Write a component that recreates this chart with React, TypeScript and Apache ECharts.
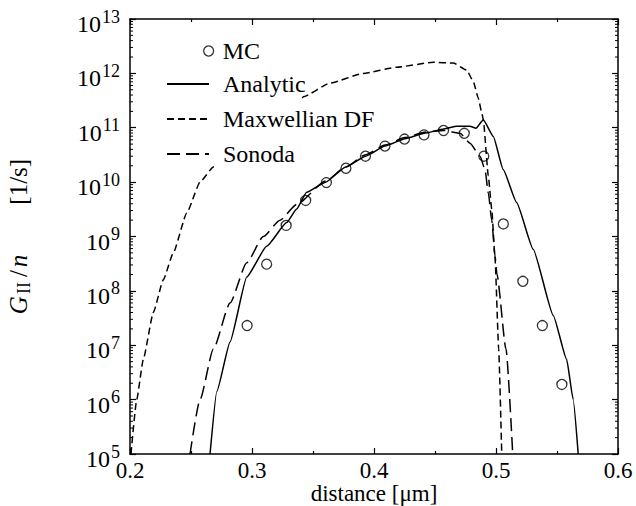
import React, { useEffect, useRef } from "react";
import * as echarts from "echarts";

const FONT = "Liberation Serif, serif";

// MC points
const mcX = [0.296, 0.312, 0.328, 0.344, 0.361, 0.377, 0.393, 0.409, 0.425, 0.441, 0.457, 0.474, 0.490, 0.506, 0.522, 0.538, 0.554];
const mcY = [2.3e7, 3.1e8, 1.6e9, 4.6e9, 9.8e9, 1.8e10, 3.0e10, 4.6e10, 6.2e10, 7.4e10, 8.9e10, 7.9e10, 3.0e10, 1.7e9, 1.5e8, 2.3e7, 1.9e6];

// Analytic curve
const anX = [0.2656, 0.2711, 0.282, 0.2957, 0.312, 0.3284, 0.3366, 0.3448, 0.3604, 0.3768, 0.3932, 0.409, 0.4254, 0.4412, 0.4574, 0.4677, 0.4787, 0.4836, 0.4896, 0.4978, 0.5059, 0.5169, 0.5305, 0.547, 0.5579, 0.5633, 0.5674];
const anY = [1e5, 1.4e6, 1.15e7, 1.8e8, 6.6e8, 1.8e9, 3.2e9, 6.5e9, 1.0e10, 1.9e10, 3.0e10, 4.6e10, 6.3e10, 7.9e10, 9.5e10, 1.07e11, 1.07e11, 9.8e10, 1.4e11, 6.9e10, 1.7e10, 4.2e9, 5.8e8, 3.5e7, 5.5e6, 1.0e6, 1e5];

// Maxwellian DF curve
const mxX = [0.2008, 0.2055, 0.2109, 0.2191, 0.2273, 0.2355, 0.2465, 0.2574, 0.2683, 0.2902, 0.3148, 0.33, 0.337, 0.342, 0.3639, 0.3912, 0.4186, 0.4486, 0.465, 0.476, 0.4814, 0.4855, 0.4883, 0.4896, 0.4937, 0.4965, 0.4992, 0.5022, 0.5047];
const mxY = [1e5, 1.0e6, 5.5e6, 4.0e7, 1.6e8, 5.0e8, 2.7e9, 1.0e10, 1.9e10, 4.5e10, 9.0e10, 1.5e11, 2.3e11, 3.7e11, 6.6e11, 1.0e12, 1.3e12, 1.6e12, 1.55e12, 1.15e12, 7.1e11, 3.5e11, 1.9e11, 1.4e11, 1.3e10, 3.2e9, 4.0e8, 8.5e6, 1e5];

// Sonoda curve
const soX = [0.2492, 0.2574, 0.2683, 0.282, 0.2957, 0.3093, 0.323, 0.3366, 0.3604, 0.3768, 0.3932, 0.409, 0.4254, 0.4412, 0.4574, 0.4705, 0.4787, 0.4869, 0.491, 0.4937, 0.4965, 0.4992, 0.5008, 0.5082, 0.5137];
const soY = [1e5, 1.0e6, 8.5e6, 6.0e7, 3.3e8, 1.0e9, 2.0e9, 3.9e9, 1.05e10, 1.9e10, 3.2e10, 4.8e10, 6.6e10, 8.3e10, 8.9e10, 7.9e10, 5.2e10, 3.0e10, 1.7e10, 6.3e9, 2.0e9, 4.4e8, 2.0e8, 8.5e6, 1e5];

const xMin = 0.2;
const xMax = 0.6;
const yMin = 1e5;
const yMax = 1e13;
const decades = [5, 6, 7, 8, 9, 10, 11, 12];
const minorMultipliers = [2, 3, 4, 5, 6, 7, 8, 9];

const zip = (xs: number[], ys: number[]) => xs.map((x, i) => [x, ys[i]]);

export default function App() {
  const ref = useRef<HTMLDivElement>(null);
  useEffect(() => {
    const chart = echarts.init(ref.current!, null, { renderer: "svg" });
    const minorVals: number[][] = [];
    decades.forEach((d) => minorMultipliers.forEach((m) => minorVals.push([xMin, m * Math.pow(10, d)])));

    const axisLine = { lineStyle: { color: "#000", width: 1.5 } };
    const lineSeries = (name: string, data: number[][], type: any, smooth: number) => ({
      name,
      type: "line",
      data,
      symbol: "none",
      showSymbol: false,
      smooth,
      smoothMonotone: "x",
      lineStyle: { color: "#000", width: 1.5, type },
      itemStyle: { color: "#000" },
      z: 2,
    });

    const option: any = {
      animation: false,
      backgroundColor: "#fff",
      grid: { left: 130, right: 18, top: 19, bottom: 52, containLabel: false, outerBoundsMode: "none" },
      xAxis: [
        {
          type: "value",
          min: xMin,
          max: xMax,
          interval: 0.1,
          position: "bottom",
          axisLine,
          axisTick: { inside: true, length: 6, lineStyle: { color: "#000", width: 1.2 } },
          minorTick: { show: true, splitNumber: 2, length: 3, lineStyle: { color: "#000", width: 1.2 } },
          splitLine: { show: false },
          axisLabel: {
            color: "#000",
            fontFamily: FONT,
            fontSize: 23,
            lineHeight: 20,
            margin: 6,
            formatter: (v: number) => v.toFixed(1),
          },
          name: "distance [\u03bcm]",
          nameLocation: "middle",
          nameGap: 29,
          nameMoveOverlap: false,
          nameTextStyle: { color: "#000", fontFamily: FONT, fontSize: 23, lineHeight: 20 },
        },
        {
          type: "value",
          min: xMin,
          max: xMax,
          interval: 0.1,
          position: "top",
          axisLine,
          axisTick: { inside: true, length: 6, lineStyle: { color: "#000", width: 1.2 } },
          minorTick: { show: true, splitNumber: 2, length: 3, lineStyle: { color: "#000", width: 1.2 } },
          splitLine: { show: false },
          axisLabel: { show: false },
        },
      ],
      yAxis: [
        {
          type: "log",
          logBase: 10,
          min: yMin,
          max: yMax,
          interval: 1,
          position: "left",
          axisLine,
          axisTick: { inside: true, length: 6, lineStyle: { color: "#000", width: 1.2 } },
          splitLine: { show: false },
          axisLabel: {
            color: "#000",
            fontFamily: FONT,
            margin: 10,
            formatter: (v: number) => `{b|10}{e|${Math.round(Math.log10(v))}}`,
            rich: {
              b: { fontFamily: FONT, fontSize: 24, color: "#000", padding: [10, 0, 0, 0] },
              e: { fontFamily: FONT, fontSize: 18, color: "#000", padding: [0, 0, 5, 1] },
            },
          },
          name: "{g|G}{s|II}{t|/}{g|n}{u|[1/s]}",
          nameLocation: "middle",
          nameRotate: 90,
          nameGap: 97,
          nameMoveOverlap: false,
          nameTextStyle: {
            color: "#000",
            fontFamily: FONT,
            fontSize: 24,
            rich: {
              g: { fontFamily: FONT, fontSize: 25, fontStyle: "italic", color: "#000" },
              s: { fontFamily: FONT, fontSize: 18, color: "#000", padding: [12, 2, 0, 2] },
              t: { fontFamily: FONT, fontSize: 25, color: "#000", padding: [0, 3, 0, 3] },
              u: { fontFamily: FONT, fontSize: 25, color: "#000", padding: [0, 0, 0, 50] },
            },
          },
        },
        {
          type: "log",
          logBase: 10,
          min: yMin,
          max: yMax,
          interval: 1,
          position: "right",
          axisLine,
          axisTick: { inside: true, length: 6, lineStyle: { color: "#000", width: 1.2 } },
          splitLine: { show: false },
          axisLabel: { show: false },
        },
      ],
      legend: [
        {
          data: [
            {
              name: "MC",
              icon: "circle",
              itemStyle: { color: "rgba(0,0,0,0)", borderColor: "#000", borderWidth: 1.3 },
            },
          ],
          orient: "vertical",
          left: 203,
          top: 34,
          padding: 0,
          itemWidth: 10,
          itemHeight: 10,
          itemGap: 0,
          selectedMode: false,
          textStyle: { color: "#000", fontFamily: FONT, fontSize: 24, lineHeight: 24, padding: [5, 4, 5, 4] },
        },
        {
          data: [
            { name: "Analytic" },
            { name: "Maxwellian DF", textStyle: { backgroundColor: "#fff", padding: [7, 4, 5, 9] } },
            { name: "Sonoda", textStyle: { backgroundColor: "#fff" } },
          ],
          orient: "vertical",
          left: 166,
          top: 67,
          padding: 0,
          itemWidth: 42,
          itemHeight: 14,
          itemGap: 0,
          selectedMode: false,
          itemStyle: { opacity: 0, borderWidth: 0, color: "rgba(0,0,0,0)" },
          textStyle: { color: "#000", fontFamily: FONT, fontSize: 24, lineHeight: 24, padding: [5, 4, 5, 9] },
        },
      ],
      series: [
        lineSeries("Maxwellian DF", zip(mxX, mxY), [7, 4], 0.15),
        lineSeries("Sonoda", zip(soX, soY), [13, 6], 0.2),
        lineSeries("Analytic", zip(anX, anY), "solid", 0.15),
        {
          name: "MC",
          type: "scatter",
          data: zip(mcX, mcY),
          symbol: "circle",
          symbolSize: 10,
          itemStyle: { color: "rgba(0,0,0,0)", borderColor: "#000", borderWidth: 1.3 },
          z: 3,
        },
        {
          name: "minorTicks",
          type: "custom",
          silent: true,
          clip: false,
          data: minorVals,
          z: 3,
          renderItem: (params: any, api: any) => {
            const v = api.value(1);
            const p = api.coord([xMin, v]);
            const q = api.coord([xMax, v]);
            return {
              type: "group",
              children: [
                { type: "line", shape: { x1: p[0], y1: p[1], x2: p[0] + 3, y2: p[1] }, style: { stroke: "#000", lineWidth: 1 } },
                { type: "line", shape: { x1: q[0] - 3, y1: q[1], x2: q[0], y2: q[1] }, style: { stroke: "#000", lineWidth: 1 } },
              ],
            };
          },
        },
      ],
    };
    chart.setOption(option);
    return () => chart.dispose();
  }, []);
  return (
    <div
      ref={ref}
      style={{ position: "fixed", left: 0, top: 0, width: 636, height: 506, background: "#fff" }}
    />
  );
}
